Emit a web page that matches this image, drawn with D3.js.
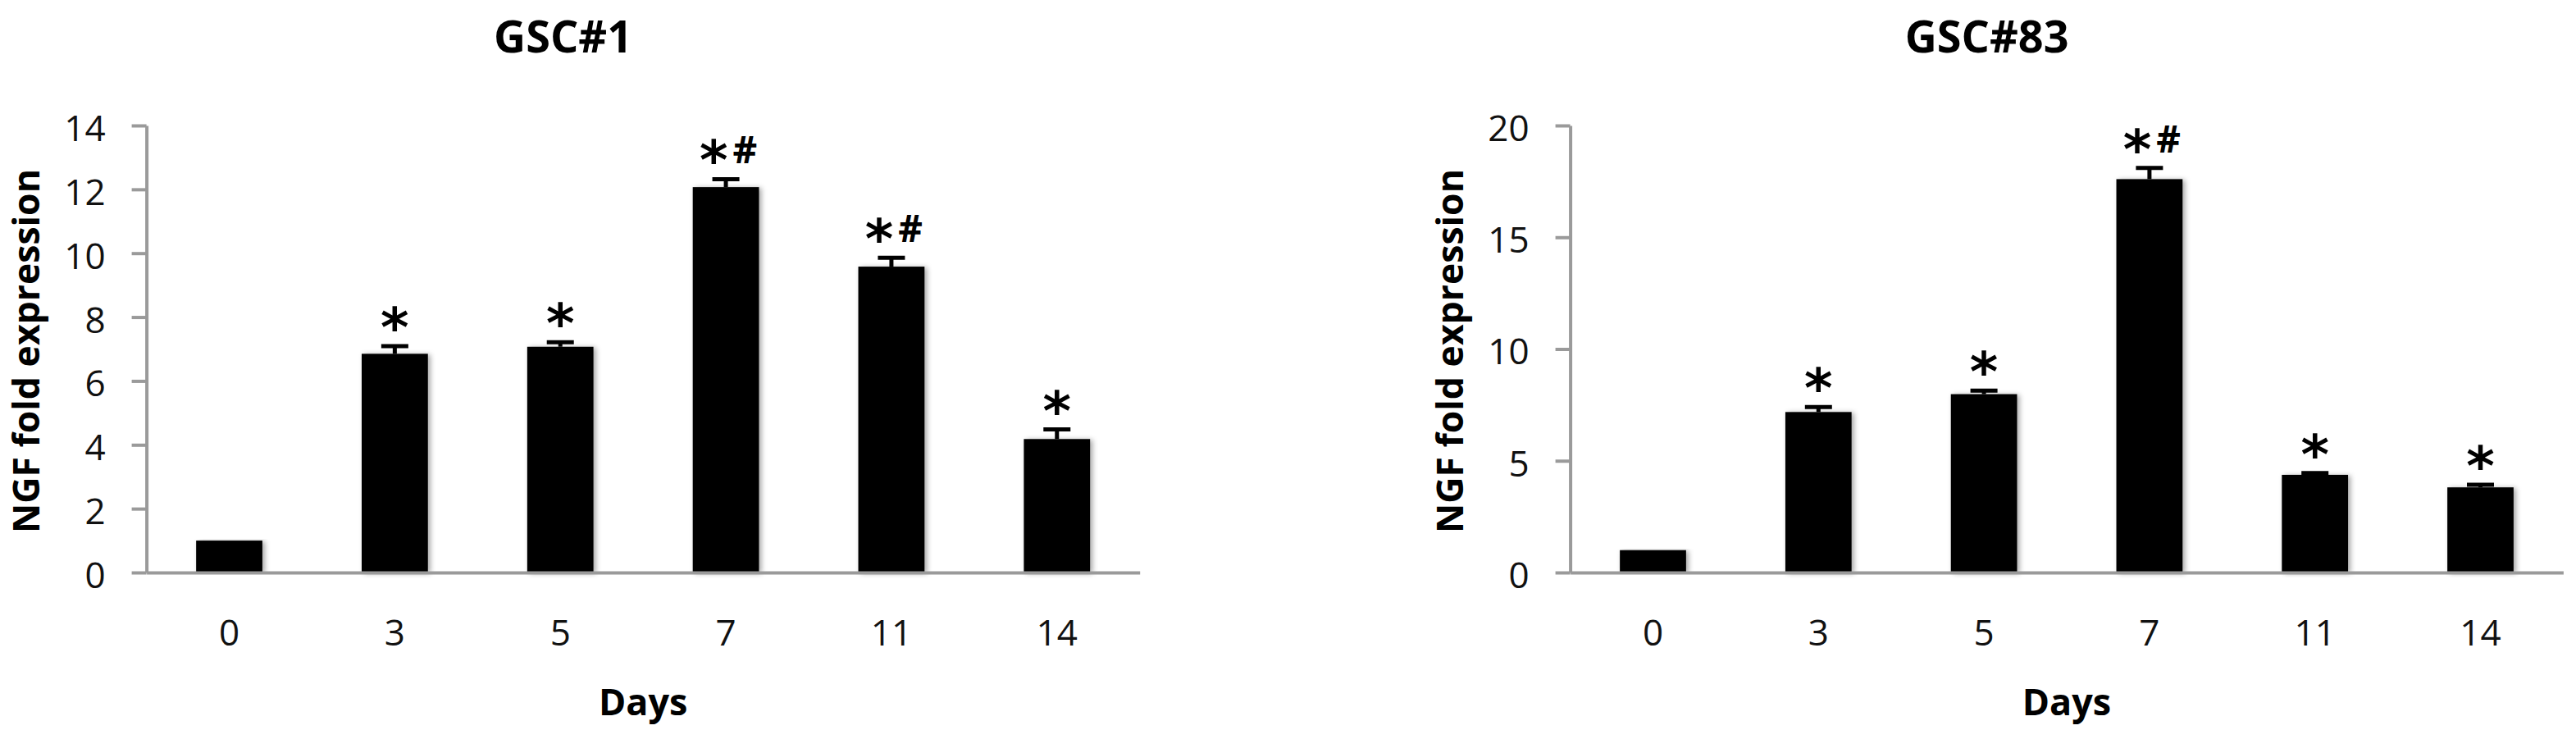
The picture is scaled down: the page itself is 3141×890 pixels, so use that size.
<!DOCTYPE html>
<html><head><meta charset="utf-8">
<script src="https://cdn.jsdelivr.net/npm/d3@7"></script>
<style>body{margin:0;background:#fff}</style>
</head><body>
<svg id="c" width="3141" height="890" xmlns="http://www.w3.org/2000/svg"></svg>
<script>
const days = ["0", "3", "5", "7", "11", "14"];
const titles = ["GSC#1", "GSC#83"];
const gsc1Values = [1.0, 6.85, 7.07, 12.07, 9.58, 4.18];
const gsc1Errors = [0, 0.24, 0.14, 0.25, 0.28, 0.30];
const gsc1Marks = ["", "*", "*", "*#", "*#", "*"];
const gsc1Ticks = [0, 2, 4, 6, 8, 10, 12, 14];
const gsc83Values = [1.0, 7.18, 7.98, 17.6, 4.37, 3.81];
const gsc83Errors = [0, 0.22, 0.16, 0.5, 0.08, 0.12];
const gsc83Marks = ["", "*", "*", "*#", "*", "*"];
const gsc83Ticks = [0, 5, 10, 15, 20];
const yLabel = "NGF fold expression";
const xLabel = "Days";

const svg = d3.select("#c");
const defs = svg.append("defs");
const f = defs.append("filter").attr("id", "sh").attr("x", "-20%").attr("y", "-5%").attr("width", "140%").attr("height", "110%");
f.append("feDropShadow").attr("dx", 3).attr("dy", 1).attr("stdDeviation", 3)
  .attr("flood-color", "#000").attr("flood-opacity", 0.35);

const AX = "#9a9a9a";
const FONT = "'Open Sans', 'DejaVu Sans', sans-serif";

function panel(o) {
  const g = svg.append("g");
  const x = d3.scaleBand().domain(days).range([o.left, o.right]).paddingInner(0.6).paddingOuter(0.3);
  const y = d3.scaleLinear().domain([0, o.yMax]).range([o.bottom, o.top]);

  // bars
  g.append("g").selectAll("rect").data(o.values).join("rect")
    .attr("x", (d, i) => x(days[i]))
    .attr("width", x.bandwidth())
    .attr("y", d => y(d))
    .attr("height", d => y(0) - y(d))
    .attr("fill", "#000")
    .attr("filter", "url(#sh)");

  // error bars
  const eb = g.append("g").attr("stroke", "#000").attr("stroke-width", 5);
  o.values.forEach((v, i) => {
    const e = o.errors[i];
    if (!e) return;
    const cx = x(days[i]) + x.bandwidth() / 2;
    eb.append("line").attr("x1", cx).attr("x2", cx).attr("y1", y(v)).attr("y2", y(v + e));
    eb.append("line").attr("x1", cx - 16.5).attr("x2", cx + 16.5).attr("y1", y(v + e)).attr("y2", y(v + e));
  });

  // significance marks
  o.values.forEach((v, i) => {
    const m = o.marks[i];
    if (!m) return;
    const cx = x(days[i]) + x.bandwidth() / 2;
    const inkBottom = y(v + o.errors[i]) - 20;
    const t = g.append("text").attr("text-anchor", "middle")
      .attr("x", cx + (m.length > 1 ? 3 : 0)).attr("y", inkBottom + 20);
    t.append("tspan").attr("font-family", "'DejaVu Sans', sans-serif").attr("font-weight", "bold")
      .attr("font-size", 66).text("*");
    if (m.includes("#")) {
      t.append("tspan").attr("font-family", FONT).attr("font-weight", "bold")
        .attr("font-size", 46).attr("dx", 6).attr("dy", -19).text("#");
    }
  });

  // y axis
  const ya = g.append("g").attr("transform", `translate(${o.left},0)`)
    .call(d3.axisLeft(y).tickValues(o.ticks).tickSize(18).tickSizeOuter(0).tickPadding(32));
  ya.select(".domain").attr("stroke", AX).attr("stroke-width", 4);
  ya.selectAll(".tick line").attr("stroke", AX).attr("stroke-width", 4);
  ya.selectAll(".tick text").attr("font-family", FONT).attr("font-size", 44)
    .attr("fill", "#111").attr("dy", "0.42em");

  // x axis
  const xa = g.append("g").attr("transform", `translate(0,${o.bottom})`)
    .call(d3.axisBottom(x).tickSize(0).tickPadding(89));
  xa.select(".domain").attr("stroke", AX).attr("stroke-width", 4);
  xa.selectAll(".tick text").attr("font-family", FONT).attr("font-size", 44)
    .attr("fill", "#111").attr("dy", 0);

  // titles
  g.append("text").attr("x", o.left + 508).attr("y", 64).attr("text-anchor", "middle")
    .attr("font-family", FONT).attr("font-weight", "bold").attr("font-size", 54).text(o.title);
  g.append("text").attr("x", (o.left + o.right) / 2).attr("y", 872).attr("text-anchor", "middle")
    .attr("font-family", FONT).attr("font-weight", "bold").attr("font-size", 45).text(xLabel);
  g.append("text").attr("transform", `translate(${o.left - 131},428) rotate(-90)`)
    .attr("text-anchor", "middle")
    .attr("font-family", FONT).attr("font-weight", "bold").attr("font-size", 44.5).text(yLabel);
}

panel({left: 178.6, right: 1389.7, top: 153, bottom: 698, yMax: 14,
  values: gsc1Values, errors: gsc1Errors, marks: gsc1Marks, ticks: gsc1Ticks, title: titles[0]});
panel({left: 1914.6, right: 3125.4, top: 153, bottom: 698, yMax: 20,
  values: gsc83Values, errors: gsc83Errors, marks: gsc83Marks, ticks: gsc83Ticks, title: titles[1]});
</script>
</body></html>
